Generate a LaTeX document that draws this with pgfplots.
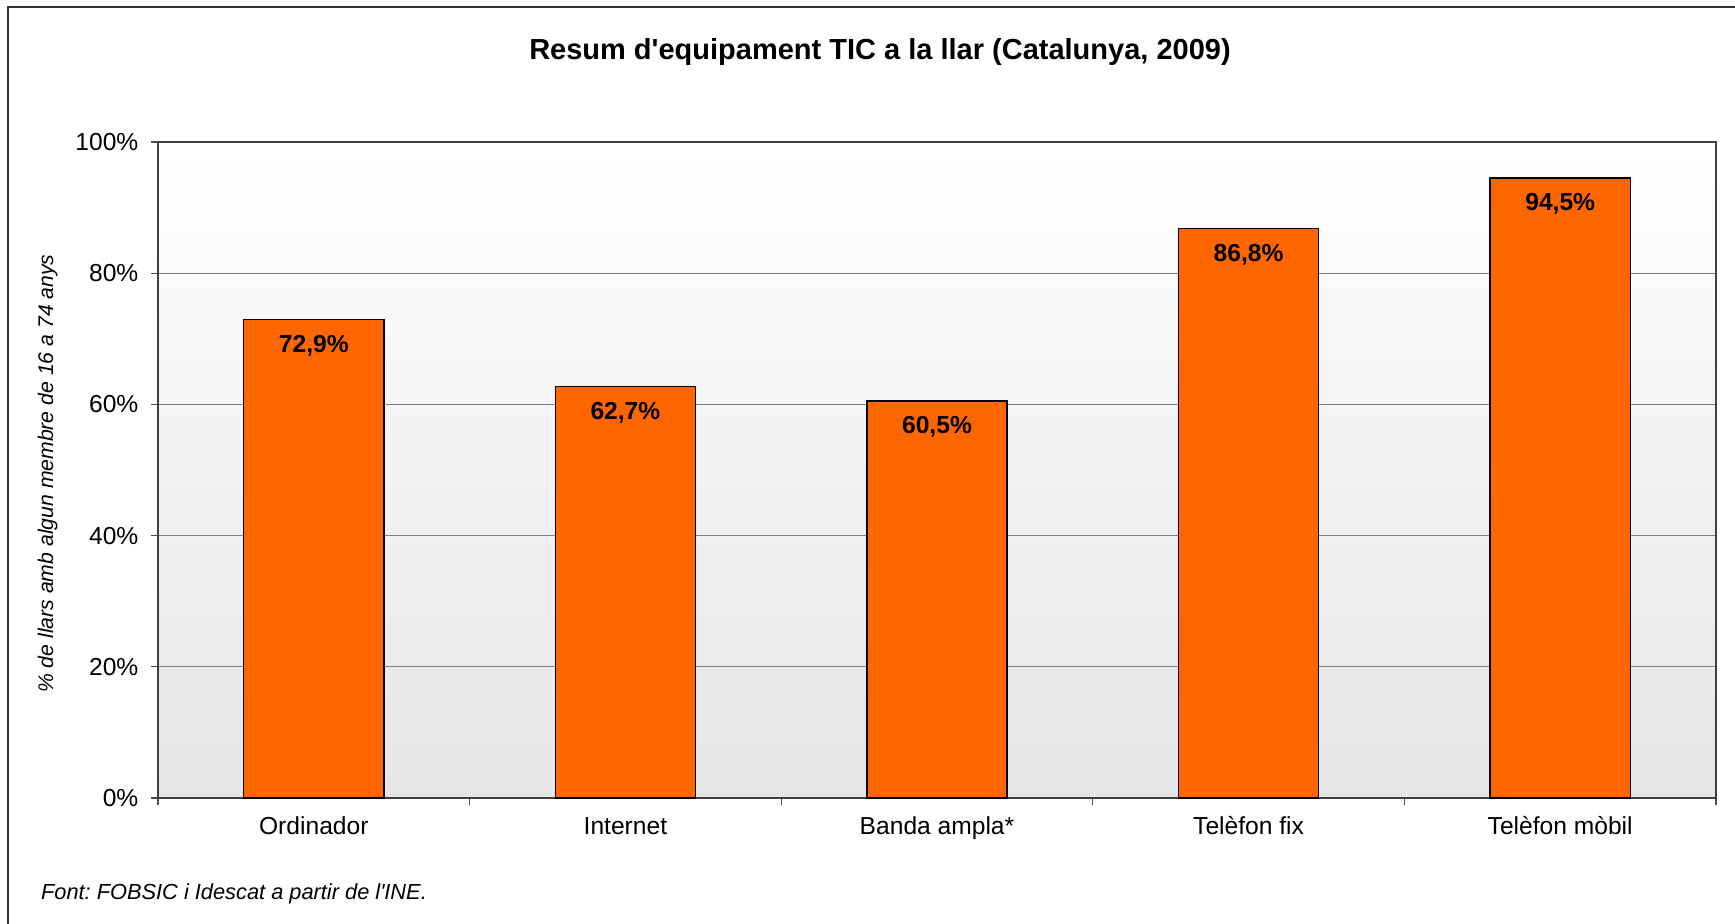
\documentclass[border=0pt]{standalone}
\usepackage{fontspec}
\setmainfont{Liberation Sans}
\usepackage{pgfplots}
\pgfplotsset{compat=1.18}
\definecolor{barorange}{HTML}{FF6600}
\definecolor{gridgray}{HTML}{808080}
\frenchspacing

\begin{document}
\begin{tikzpicture}
\useasboundingbox (0,0) rectangle (867.5pt,461.5pt);
% marc exterior del grafic (nomes es veuen el costat esquerre i el de dalt)
\draw[black!80, line width=0.8pt] (4pt,-5pt) -- (4pt,458pt) -- (875pt,458pt);

\begin{axis}[
  at={(79pt,62.5pt)}, anchor=south west,
  scale only axis, width=779pt, height=328pt,
  ybar, bar width=0.45,
  xmin=-0.5, xmax=4.5, ymin=0, ymax=100,
  xtick={-0.5,0.5,1.5,2.5,3.5,4.5},
  x tick label as interval,
  xticklabels={Ordinador,Internet,Banda ampla*,Telèfon fix,Telèfon mòbil},
  ytick={0,20,40,60,80,100},
  yticklabels={0\%,20\%,40\%,60\%,80\%,100\%},
  xtick pos=bottom, ytick pos=left,
  tick align=outside, major tick length=3.5pt,
  ymajorgrids, grid style={gridgray, line width=0.5pt},
  axis line style={black!75, line width=0.6pt},
  tick style={black!70, line width=0.6pt},
  axis background/.style={top color=white, bottom color=gray!20},
  tick label style={font=\fontsize{12.3}{14}\selectfont},
  xticklabel style={anchor=base, yshift=-14.8pt},
  yticklabel style={xshift=-2.8pt},
  /pgf/number format/assume math mode=true,
  nodes near coords={\pgfmathprintnumber[fixed,fixed zerofill,precision=1,use comma]{\pgfplotspointmeta}\%},
  every node near coord/.append style={anchor=center, yshift=-13pt, font=\bfseries\fontsize{12.3}{14}\selectfont, black},
]
\addplot[fill=barorange, draw=black, line width=0.7pt] coordinates {
  (0,72.9) (1,62.7) (2,60.5) (3,86.8) (4,94.5)
};
\end{axis}

\node[font=\bfseries\fontsize{14.5}{17}\selectfont] at (440pt,435.5pt) {Resum d\textquotesingle equipament TIC a la llar (Catalunya, 2009)};
\node[rotate=90, font=\itshape\fontsize{10.6}{12}\selectfont] at (23.8pt,224.7pt) {\% de llars amb algun membre de 16 a 74 anys};
\node[anchor=west, font=\itshape\fontsize{10.9}{13}\selectfont] at (17pt,14.5pt) {Font: FOBSIC i Idescat a partir de l\textquotesingle INE.};
\end{tikzpicture}
\end{document}
